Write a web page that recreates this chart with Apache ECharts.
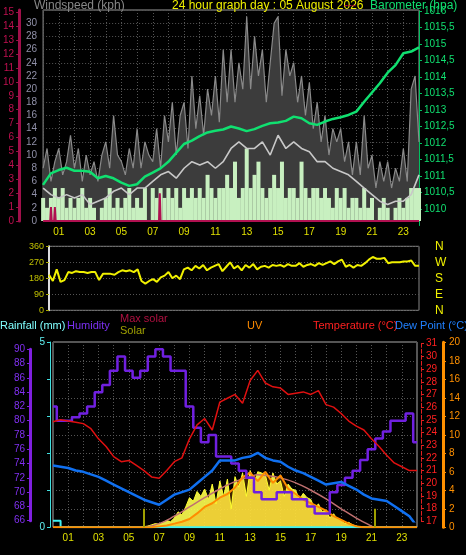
<!DOCTYPE html>
<html><head><meta charset="utf-8">
<script src="https://cdn.jsdelivr.net/npm/echarts@6/dist/echarts.min.js"></script>
<style>html,body{margin:0;background:#000}#c{width:466px;height:555px}</style>
</head><body><div id="c"></div>
<script>
// ---- data ----
const hourLabels = ['01','03','05','07','09','11','13','15','17','19','21','23'];
// quarter-hour series (00:00 .. 24:00, 97 values)
const windGust = [8,11,6,9, 11,7,9,13, 8,11,6,10, 7,9,6,10, 12,8,16,10, 9,7,11,8, 14,8,12,10, 9,14,8,16,
  12,18,10,16, 18,11,22,14, 19,13,20,16, 22,15,26,18, 26,18,24,20, 31,20,28,22, 26,18,24,30, 31,19,26,22,
  24,18,22,16, 21,14,18,12, 16,10,14,12, 14,9,12,7, 12,7,16,8, 10,5,9,6, 9,5,8,6, 11,6,20,22, 12];
const windSpeed = [3.5,2,3.5,5, 3.5,5,2,3.5, 2,3.5,5,2, 3.5,2,0,2, 3.5,5,2,3.5, 2,3.5,5,2, 3.5,2,5,0, 5,3.5,5,3.5,
  5,3.5,5,2, 5,3.5,5,3.5, 5,3.5,7,5, 3.5,5,5,7, 5,9,3.5,5, 11,5,7,9, 5,3.5,5,7, 5,9,3.5,5,
  5,3.5,9,5, 3.5,5,5,3.5, 5,3.5,2,5, 3.5,5,2,3.5, 3.5,2,5,2, 3.5,0,2,3.5, 2,0,2,3.5, 2,3.5,5,5, 5];
const windDir = [200,165,230,160, 170,215,210,220, 215,215,210,215, 215,170,205,205, 205,200,215,225, 220,225,215,230,
  165,150,165,175, 160,185,195,215, 180,195,175,230, 240,225,250,235, 255,225,240,250, 260,220,245,270,
  235,250,225,255, 240,260,230,245, 250,240,255,250, 255,245,260,250, 250,265,245,255, 260,250,265,255,
  265,275,260,275, 285,245,255,240, 255,250,265,285, 300,290,290,295, 265,270,270,270, 275,275,280,250, 250];
const solar = [0,0,0,0,0,0,0,0,0,0,0,0,0,0,0,0,0,0,0,0,0,0,0,0,
  10,20,40,60, 50,80,110,90, 150,250,200,330, 480,420,580,500, 620,450,700,380, 750,500,780,300,
  820,650,880,500, 920,700,900,880, 850,600,880,700, 750,500,700,620, 600,450,550,480, 450,300,380,250,
  280,150,220,130, 120,60,80,40, 20,10,5,0, 0,0,0,0,0,0,0,0,0,0,0,0, 0];
// half-hour series (00:00 .. 24:00, 49 values)
const windAvg = [5,4,3.5,4,3.5,4,2.5,3,3.5,4.5,5,4,5,5,6,7,7.5,6.5,8,9,8.5,9,8,9,11,12,11,11,12,10,13,11,12,11,10.5,9,9,8,7.5,7,6,5,4,3,2.5,3,3,4,7];
const barometer = [1010.73,1011.08,1011.18,1011.25,1011.16,1011.16,1011.13,1010.93,1011.0,1010.93,1010.8,1010.7,1010.75,1010.98,1011.1,1011.23,
  1011.43,1011.7,1011.97,1012.07,1012.21,1012.32,1012.37,1012.41,1012.5,1012.44,1012.36,1012.42,1012.52,1012.6,1012.62,1012.67,
  1012.8,1012.75,1012.6,1012.55,1012.65,1012.73,1012.78,1012.85,1012.95,1013.25,1013.53,1013.81,1014.13,1014.36,1014.72,1014.77,1014.9];
const humidity = [82,80,80,80.5,81,82,84,85,87,89,87,86,87,89,90,89,87,87,82,79,77,78,75,75,74,73,72,70,69,69,70,70,69,69,68,67,67,70,71,72,73,74.5,76,77.5,78.5,80,80,81,77];
const temperature = [24.85,25,24.9,24.8,24.7,24.3,23.5,22.9,22.1,21.7,21.8,21.4,21.0,20.5,20.4,21,21.7,22,23.5,24.6,25.1,24.2,26.4,26.7,27,26.3,28.1,28.9,27.9,27.6,27.5,27,27.1,27.2,27,27.3,26.2,26,25.5,24.9,24.5,24.2,23.5,22.9,22.2,21.6,21.3,21,21];
const dewPoint = [21.4,21.3,21.2,21.0,20.9,20.7,20.5,20.2,19.9,19.6,19.3,19.0,18.7,18.5,18.3,18.7,19.1,19.3,19.5,20,20.5,21,21.8,21.8,21.8,22,22.1,22.4,22,21.8,21.7,21.3,21,20.8,20.5,20.2,19.9,20,20.1,19.8,19.5,19.1,18.8,18.7,18.6,18.2,17.8,17.4,16.6];
const uvIndex = [0,0,0,0,0,0,0,0,0,0,0,0,0,0,0.1,0.2,0.4,0.6,0.9,1.5,2.2,2.6,3.2,3.6,4.3,5.4,5.9,5.0,6.0,4.8,5.6,4.2,3.6,3.0,2.6,2.2,1.8,1.2,0.8,0.4,0.1,0,0,0,0,0,0,0,0];
const rainfall = [0.18,0,0,0,0,0,0,0,0,0,0,0,0,0,0,0,0,0,0,0,0,0,0,0,0,0,0,0,0,0,0,0,0,0,0,0,0,0,0,0,0,0,0,0,0,0,0,0,0];
const maxSolarHours = [6,7,8,9,10,11,12,13,13.5,14,15,16,17,18,19,20,21,21.2];
const maxSolar = [0,60,180,330,480,620,740,820,850,840,800,720,600,460,300,150,20,0];
const rainRateHours = [0,0.45,0.5,0.55,0.7,0.75,0.8,7.4,7.45,7.5,24];
const rainRate = [0,0,1,0,0,1,0,0,2,0,0];
const sunTimes = [6.0, 21.2];

// ---- build ----
const q = a => a.map((v,i)=>[i*0.25,v]);
const h = a => a.map((v,i)=>[i*0.5,v]);
const pairs = (t,v) => t.map((x,i)=>[x,v[i]]);
const F = 'Liberation Sans';
const dot = {show:true,lineStyle:{color:'#555',type:[1,2],width:1}};
function xAx(g, labels){
  return {type:'value',gridIndex:g,min:0,max:24,interval:1,
    axisLine:{show:false,onZero:false},axisTick:{show:false},
    splitLine:labels?dot:{show:false},
    axisLabel:{show:labels,color:'#e0e000',fontFamily:F,fontSize:10,margin:6,
      formatter:v=>(v%2===1)?String(v).padStart(2,'0'):''}};
}
const grids = [
  {left:43,right:47,top:10,bottom:334,show:true,borderColor:'#999',borderWidth:1},
  {left:43,right:47,top:11,bottom:329.5},
  {left:49,right:47,top:246.3,bottom:244.7,show:true,borderColor:'#888',borderWidth:1},
  {left:53,right:49,top:342,bottom:27.7,show:true,borderColor:'#aaa',borderWidth:1},
  {left:53,right:49,top:349.3,bottom:34.3},
  {left:53,right:49,top:343.7,bottom:33.7},
  {left:53,right:49,top:342.3,bottom:27.7}
];
const xAxes = [xAx(0,true),xAx(1,false),
  Object.assign(xAx(2,false),{splitLine:{show:false}}),
  xAx(3,true),xAx(4,false),xAx(5,false),xAx(6,false)];
const lab = (c,extra)=>Object.assign({color:c,fontFamily:F,fontSize:10},extra||{});
const AL = (c,w,t)=>({show:true,onZero:false,lineStyle:{color:c,width:w,type:t||'solid'}});
const yAxes = [
  {type:'value',gridIndex:0,min:0,max:32,interval:2,position:'left',axisLine:{show:false,onZero:false},axisTick:{show:false},
    axisLabel:lab('#9090a8',{margin:6,showMaxLabel:false}),splitLine:dot},
  {type:'value',gridIndex:0,min:0,max:15.17,interval:1,position:'left',offset:24,
    axisLine:AL('#a0104a',3),axisTick:{show:true,length:3,lineStyle:{color:'#a0104a'}},
    axisLabel:lab('#c01050',{margin:5,showMaxLabel:false}),splitLine:{show:false}},
  {type:'value',gridIndex:1,min:1009.5,max:1016,interval:0.5,position:'right',
    axisLine:AL('#00c060',1),axisTick:{show:true,length:3,lineStyle:{color:'#00c060'}},
    axisLabel:lab('#10e070',{margin:5,showMinLabel:false,formatter:v=>String(v).replace('.',',')}),splitLine:{show:false}},
  {type:'value',gridIndex:2,min:0,max:360,interval:90,position:'left',
    axisLine:AL('#ddd',2),axisTick:{show:true,length:3,lineStyle:{color:'#aa0'}},
    axisLabel:lab('#c0c000',{margin:5,fontSize:9}),splitLine:dot},
  {type:'value',gridIndex:2,min:0,max:360,interval:90,position:'right',axisLine:{show:false,onZero:false},axisTick:{show:false},
    axisLabel:lab('#f0f000',{margin:16,fontSize:12,formatter:v=>({0:'N',90:'E',180:'S',270:'W',360:'N'})[v]}),splitLine:{show:false}},
  {type:'value',gridIndex:3,min:0,max:5,interval:1,position:'left',offset:3,
    axisLine:AL('#40e0e0',1),axisTick:{show:true,length:3,lineStyle:{color:'#40e0e0'}},
    axisLabel:lab('#60f0f0',{margin:5,formatter:v=>(v===0||v===5)?String(v):''}),splitLine:{show:false}},
  {type:'value',gridIndex:3,min:0,max:3000,show:false,axisLine:{onZero:false},splitLine:{show:false}},
  {type:'value',gridIndex:4,min:66,max:90,interval:2,position:'left',offset:23,
    axisLine:AL('#8020e0',3),axisTick:{show:true,length:3,lineStyle:{color:'#8020e0'}},
    axisLabel:lab('#8030f0',{margin:5}),splitLine:{show:false}},
  {type:'value',gridIndex:5,min:17,max:31,interval:1,position:'right',offset:4,
    axisLine:AL('#e02020',1,'dashed'),axisTick:{show:true,length:3,lineStyle:{color:'#e02020'}},
    axisLabel:lab('#ff2020',{margin:5}),splitLine:{show:false}},
  {type:'value',gridIndex:6,min:0,max:20,interval:2,position:'right',offset:26,
    axisLine:AL('#ff9000',3),axisTick:{show:true,length:3,lineStyle:{color:'#ff9000'}},
    axisLabel:lab('#ff9000',{margin:6}),splitLine:dot}
];
const L = (name,x,y,data,color,w,extra)=>Object.assign({name,type:'line',xAxisIndex:x,yAxisIndex:y,data,
  symbol:'none',lineStyle:{color,width:w},itemStyle:{color},animation:false},extra||{});
const series = [
  L('Gust',0,0,q(windGust),'#8a8a8a',1.2,{z:1,areaStyle:{color:'#3c3c3c',opacity:1}}),
  Object.assign({name:'Wind speed',type:'bar',xAxisIndex:0,yAxisIndex:0,data:q(windSpeed),barWidth:4,z:3,
    itemStyle:{color:'#c8f0c0'},animation:false}),
  L('Average',0,0,h(windAvg),'#c8c8c8',1.6,{z:4}),
  L('Rain rate',0,1,pairs(rainRateHours,rainRate),'#b01050',2,{z:5}),
  L('Barometer',1,2,h(barometer),'#10e070',2.5,{z:6}),
  L('Direction',2,3,q(windDir),'#f0f000',2),
  L('Solar',3,6,q(solar),'#ffff30',1,{areaStyle:{color:'#ffff50',opacity:0.9},
    markLine:{symbol:'none',silent:true,label:{show:false},lineStyle:{color:'#a0a000',width:2,type:'solid'},
      data:sunTimes.map(t=>[{coord:[t,0]},{coord:[t,300]}])}}),
  L('Max solar',3,6,pairs(maxSolarHours,maxSolar),'#c07070',1.5,{smooth:true}),
  L('Rainfall',3,5,h(rainfall),'#40f0f0',2,{step:'end'}),
  L('UV',6,9,h(uvIndex),'#ff8c00',2,{areaStyle:{color:'#ff8c00',opacity:0.25}}),
  L('Humidity',4,7,h(humidity),'#7020e0',2.5,{step:'middle'}),
  L('Temperature',5,8,h(temperature),'#e01010',1.5),
  L('Dew Point',5,8,h(dewPoint),'#1070f0',2.5)
];
const T = (text,left,top,color,fs)=>({text,left,top,padding:0,textStyle:{color,fontFamily:F,fontSize:fs||12,fontWeight:'normal'}});
const titles = [
  T('Windspeed (kph)',34,0,'#888'),
  T('24 hour graph day : 05 August 2026',172,0,'#f0f000'),
  T('---',344,0,'#c01040'),
  T('Barometer (hpa)',370,0,'#10e070'),
  T('Rainfall (mm)',0,320,'#80ffff',11),
  T('Humidity',67,320,'#7a30f0',11),
  T('Max solar',120,313,'#b01040',11),
  T('Solar',120,325,'#a0a000',11),
  T('UV',247,320,'#ff8c00',11),
  T('Temperature (°C)',313,320,'#ff2020',11),
  T('Dew Point (°C)',395,320,'#2080ff',11)
];
const chart = echarts.init(document.getElementById('c'));
chart.setOption({backgroundColor:'#000',animation:false,title:titles,grid:grids,xAxis:xAxes,yAxis:yAxes,series});
</script></body></html>
